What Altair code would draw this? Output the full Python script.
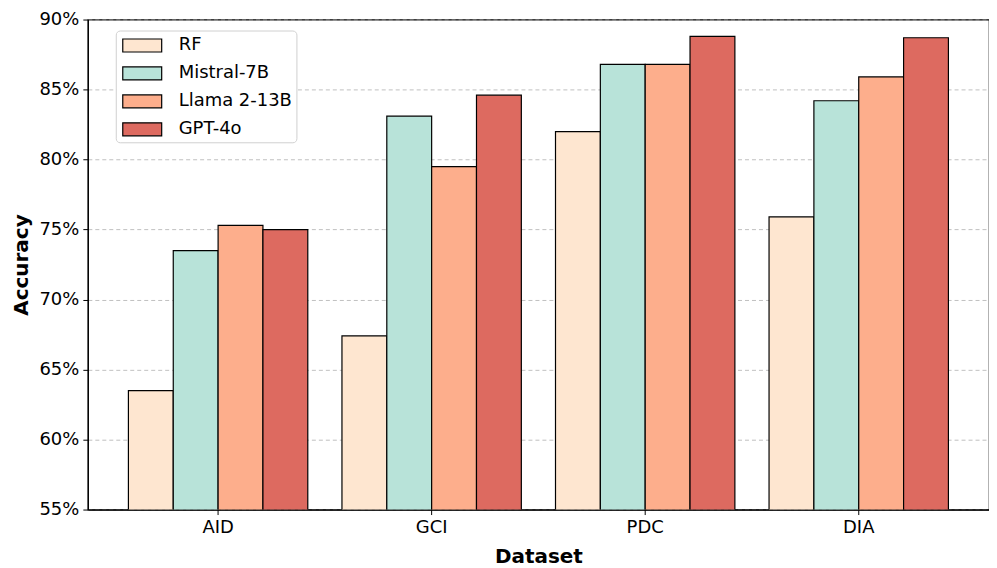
import altair as alt
import pandas as pd

datasets = ["AID", "GCI", "PDC", "DIA"]
models = ["RF", "Mistral-7B", "Llama 2-13B", "GPT-4o"]
colors = ["#FEE6D0", "#B8E3D9", "#FDAE8C", "#DD6A60"]
rf = [0.635, 0.674, 0.820, 0.759]
mistral = [0.735, 0.831, 0.868, 0.842]
llama = [0.753, 0.795, 0.868, 0.859]
gpt = [0.750, 0.846, 0.888, 0.887]

rows = []
for m, vals in zip(models, [rf, mistral, llama, gpt]):
    for d, v in zip(datasets, vals):
        rows.append({"Dataset": d, "Model": m, "Accuracy": v})
df = pd.DataFrame(rows)

font = "DejaVu Sans"

chart = alt.Chart(df).mark_bar(stroke="black", strokeWidth=1.2, clip=True).encode(
    x=alt.X("Dataset:N", sort=datasets,
            scale=alt.Scale(paddingInner=0.16, paddingOuter=0.19),
            axis=alt.Axis(title="Dataset", labelAngle=0, grid=False)),
    xOffset=alt.XOffset("Model:N", sort=models,
                        scale=alt.Scale(paddingInner=0, paddingOuter=0)),
    y=alt.Y("Accuracy:Q",
            scale=alt.Scale(domain=[0.55, 0.90], zero=False, nice=False),
            axis=alt.Axis(title="Accuracy", format=".0%", values=[0.55, 0.6, 0.65, 0.7, 0.75, 0.8, 0.85, 0.9],
                          grid=True, gridDash=[4, 3], gridColor="#b0b0b0", gridWidth=0.8)),
    color=alt.Color("Model:N", sort=models,
                    scale=alt.Scale(domain=models, range=colors),
                    legend=alt.Legend(title=None, orient="none", legendX=28, legendY=11,
                                      symbolType="M-0.8,-0.65L3.1,-0.65L3.1,0.65L-0.8,0.65Z",
                                      symbolSize=400, symbolStrokeColor="black",
                                      symbolStrokeWidth=1.2, labelFontSize=18,
                                      labelFont=font, rowPadding=8, labelOffset=37,
                                      padding=4, fillColor="white",
                                      strokeColor="#d0d0d0", cornerRadius=4,
                                      offset=0)),
).properties(
    width=903, height=491,
    autosize=alt.AutoSizeParams(type="none"),
    padding={"left": 80, "top": 11, "right": 0, "bottom": 58},
).configure_view(
    stroke="black", strokeWidth=1.2
).configure_axis(
    labelFont=font, titleFont=font, labelFontSize=18, titleFontSize=20,
    titleFontWeight="bold", labelColor="black", titleColor="black",
    domainColor="black", tickColor="black", tickSize=5, domainWidth=1.2,
    labelPadding=4,
).configure_axisY(titlePadding=7).configure_axisX(titlePadding=10)

chart.save("out.html", embed_options={"renderer": "svg", "actions": False})
